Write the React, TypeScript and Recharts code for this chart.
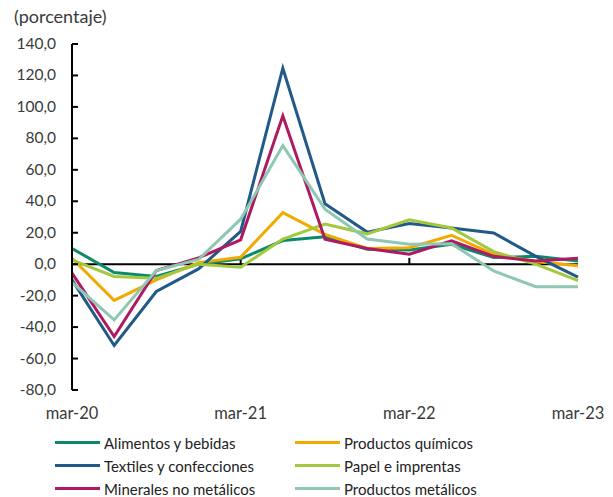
import React from "react";
import { LineChart, Line, XAxis, YAxis, ReferenceLine } from "recharts";

const quarters = [
    "mar-20", "jun-20", "sep-20", "dic-20", "mar-21", "jun-21", "sep-21",
    "dic-21", "mar-22", "jun-22", "sep-22", "dic-22", "mar-23",
];
const xTicks = ["mar-20", "mar-21", "mar-22", "mar-23"];
const yTicks = [-80, -60, -40, -20, 0, 20, 40, 60, 80, 100, 120, 140];

const alimentos = [10, -5.3, -7.8, 0, 3.4, 15, 17.5, 9.5, 9, 12.7, 4.2, 5, 2];
const quimicos = [3.8, -23, -10, 1, 4.4, 32.8, 19, 10, 10.5, 18.4, 6.3, 1.7, -1];
const textiles = [-10, -51.7, -17.4, -3, 20.8, 124.6, 38.4, 20.4, 25.8, 23, 19.8, 5, -8.2];
const papel = [2.7, -7.8, -9, 0, -2, 16, 25.5, 19.3, 28.2, 23, 8, 0, -10.4];
const minerales = [-5.7, -46, -4, 4, 15.5, 94.3, 15.9, 10, 6.3, 14.8, 5, 2, 3.8];
const metalicos = [-11.6, -35.4, -4, 3, 28.6, 75.4, 35, 16, 12.7, 13, -4.3, -14.3, -14.3];

const series = [
    { key: "alimentos", name: "Alimentos y bebidas", color: "#0b8a6b", values: alimentos },
    { key: "quimicos", name: "Productos químicos", color: "#f2a900", values: quimicos },
    { key: "textiles", name: "Textiles y confecciones", color: "#215a88", values: textiles },
    { key: "papel", name: "Papel e imprentas", color: "#a3c83e", values: papel },
    { key: "minerales", name: "Minerales no metálicos", color: "#ae1a62", values: minerales },
    { key: "metalicos", name: "Productos metálicos", color: "#8ec8b3", values: metalicos },
];

const data = quarters.map((q, i) => {
    const row: Record<string, string | number> = { q };
    series.forEach((s) => {
        row[s.key] = s.values[i];
    });
    return row;
});

const FONT = "Lato, 'Open Sans', sans-serif";
const AXIS_X = 72;

const fmt = (v: number) => v.toFixed(1).replace(".", ",");

function YTick(props: any) {
    const { x, y, payload } = props;
    return (
        <g>
            <line x1={AXIS_X} x2={AXIS_X + 6} y1={y} y2={y} stroke="#000" strokeWidth={2} />
            <text x={x + 1} y={y} dy={5} textAnchor="end" fill="#3a3a3a" fontSize={15.5} fontFamily={FONT}>
                {fmt(payload.value)}
            </text>
        </g>
    );
}

const legendOrder = [
    [series[0], series[1]],
    [series[2], series[3]],
    [series[4], series[5]],
];

export default function App() {
    return (
        <div style={{ position: "relative", width: 613, height: 497, background: "#fff", fontFamily: FONT }}>
            <style>{`body{margin:0}`}</style>
            <div style={{ position: "absolute", left: 14, top: 5, fontSize: 18, color: "#3a3a3a" }}>
                (porcentaje)
            </div>
            <LineChart
                width={613}
                height={497}
                data={data}
                margin={{ top: 44, right: 35, left: 0, bottom: 77 }}
            >
                <XAxis
                    dataKey="q"
                    ticks={xTicks}
                    interval={0}
                    axisLine={false}
                    tickLine={false}
                    height={30}
                    tickMargin={11}
                    tick={{ fill: "#3a3a3a", fontSize: 16.5, fontFamily: FONT }}
                />
                <YAxis
                    width={72}
                    domain={[-80, 140]}
                    ticks={yTicks}
                    interval={0}
                    tickLine={false}
                    axisLine={{ stroke: "#000", strokeWidth: 2 }}
                    tickMargin={0}
                    tickSize={17}
                    tick={<YTick />}
                />
                <ReferenceLine y={0} stroke="#000" strokeWidth={2} />
                <ReferenceLine segment={[{ x: "mar-21", y: 0 }, { x: "mar-21", y: 4 }]} stroke="#000" strokeWidth={2} />
                <ReferenceLine segment={[{ x: "mar-22", y: 0 }, { x: "mar-22", y: 4 }]} stroke="#000" strokeWidth={2} />
                {series.map((s) => (
                    <Line
                        key={s.key}
                        dataKey={s.key}
                        name={s.name}
                        stroke={s.color}
                        strokeWidth={3}
                        dot={false}
                        isAnimationActive={false}
                    />
                ))}
            </LineChart>
            <div style={{ position: "absolute", left: 55, top: 431, fontSize: 15, color: "#222" }}>
                {legendOrder.map((row, i) => (
                    <div key={i} style={{ display: "flex", height: 23, alignItems: "center" }}>
                        {row.map((s) => (
                            <div key={s.key} style={{ display: "flex", alignItems: "center", width: 240 }}>
                                <span style={{ display: "inline-block", width: 45, height: 3, background: s.color, marginRight: 4 }} />
                                <span>{s.name}</span>
                            </div>
                        ))}
                    </div>
                ))}
            </div>
        </div>
    );
}
